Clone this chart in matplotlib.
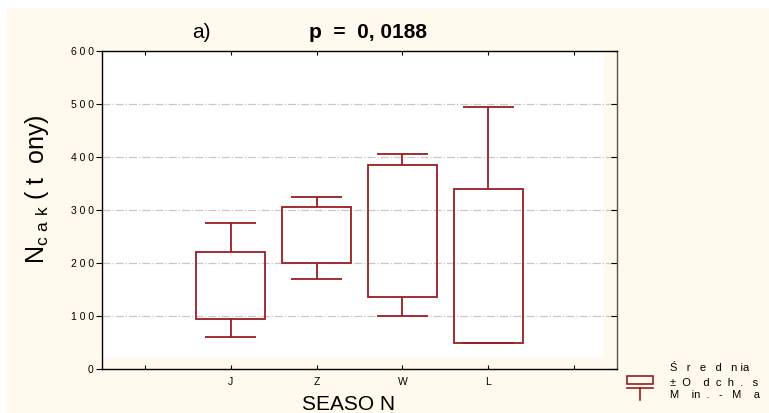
import matplotlib
matplotlib.use("Agg")
import matplotlib.pyplot as plt
from matplotlib.patches import Rectangle
from matplotlib.lines import Line2D

plt.rcParams['font.family'] = ['Liberation Sans', 'DejaVu Sans']
plt.rcParams['mathtext.fontset'] = 'custom'
plt.rcParams['mathtext.rm'] = 'Liberation Sans'

# Data
categories = ['J', 'Z', 'W', 'L']
positions = [2, 3, 4, 5]
box_low = [95, 200, 135, 50]      # mean - SD
box_high = [220, 305, 385, 340]   # mean + SD
whisk_min = [60, 170, 100, 50]
whisk_max = [275, 325, 405, 495]
yticks = [0, 100, 200, 300, 400, 500, 600]
ytick_labels = ['0', '1 0 0', '2 0 0', '3 0 0', '4 0 0', '5 0 0', '6 0 0']
xticks = [1, 2, 3, 4, 5, 6]
xtick_labels = ['', 'J', 'Z', 'W', 'L', '']

W, H = 769, 413
cream = '#FFF9EE'
red = '#9A1E22'

fig = plt.figure(figsize=(W / 100, H / 100), dpi=100, facecolor='white')
fig.patches.append(Rectangle((7 / W, 0), 1 - 7 / W, (H - 8) / H,
                             transform=fig.transFigure, facecolor=cream,
                             edgecolor='none', zorder=-5))

def fx(px):
    return px / W

def fy(py):
    return (H - py) / H

ax = fig.add_axes([fx(102), fy(369), fx(617) - fx(102), fy(51) - fy(369)])
ax.set_facecolor(cream)
ax.add_patch(Rectangle((0, 0.035), 0.975, 0.965, transform=ax.transAxes,
                       facecolor='white', edgecolor='none', zorder=0))

ax.set_xlim(0.5, 6.5)
ax.set_ylim(0, 600)

# grid
for v in yticks[1:-1]:
    ax.axhline(v, color='#C8C8C8', lw=0.9, ls='-.', zorder=1)

# boxes
heights = [h - l for h, l in zip(box_high, box_low)]
ax.bar(positions, heights, bottom=box_low, width=0.8, fill=False,
       edgecolor=red, linewidth=1.3, zorder=3)
ax.vlines(positions, box_high, whisk_max, color=red, lw=1.3, zorder=3)
ax.vlines(positions, whisk_min, box_low, color=red, lw=1.3, zorder=3)
cw = 0.3
ax.hlines(whisk_max, [p - cw for p in positions], [p + cw for p in positions],
          color=red, lw=1.3, zorder=3)
ax.hlines(whisk_min, [p - cw for p in positions], [p + cw for p in positions],
          color=red, lw=1.3, zorder=3)

ax.set_yticks(yticks)
ax.set_yticklabels(ytick_labels, fontsize=7.5)
ax.set_xticks(xticks)
ax.set_xticklabels(xtick_labels, fontsize=7.5)
ax.tick_params(axis='y', direction='out', length=4, width=0.8, pad=2, right=True)
ax.tick_params(axis='x', direction='in', length=3, width=0.8, pad=6, top=True)
for s in ['left', 'bottom', 'top']:
    ax.spines[s].set_color('black')
    ax.spines[s].set_linewidth(1.0)
ax.spines['right'].set_color('#555555')
ax.spines['right'].set_linewidth(1.0)
# right ticks inward
for t in ax.yaxis.get_major_ticks():
    t.tick2line.set_marker(matplotlib.lines.TICKLEFT)
    t.tick2line.set_markersize(4)

# titles
fig.text(fx(201), fy(33), 'a)', fontsize=15, ha='center', va='center')
fig.text(fx(368), fy(33), 'p  =  0, 0188', fontsize=15, fontweight='bold',
         ha='center', va='center')

# y label
fig.text(fx(37), fy(189), r'N$_{\mathregular{c\ a\ k}}$ ( t  ony)', fontsize=18,
         rotation=90, ha='center', va='center')
# x label
fig.text(fx(349), fy(404), 'SEASO N', fontsize=15, ha='center', va='center')

# legend
fig.patches.append(Rectangle((fx(627), fy(384)), fx(653) - fx(627), fy(376) - fy(384),
                             transform=fig.transFigure, facecolor=cream,
                             edgecolor=red, lw=1.2))
fig.lines.append(Line2D([fx(627), fx(653)], [fy(388), fy(388)],
                        transform=fig.transFigure, color=red, lw=1.2))
fig.lines.append(Line2D([fx(640), fx(640)], [fy(388), fy(400)],
                        transform=fig.transFigure, color=red, lw=1.2))
fig.text(fx(670), fy(368), 'Ś   r   e   d   n ia', fontsize=8, va='center')
fig.text(fx(670), fy(383), '±  O    d  c  h  .   s', fontsize=8, va='center')
fig.text(fx(670), fy(395), 'M    in  .   -   M    a', fontsize=8, va='center')

fig.savefig('out.png', dpi=100, facecolor=fig.get_facecolor())
